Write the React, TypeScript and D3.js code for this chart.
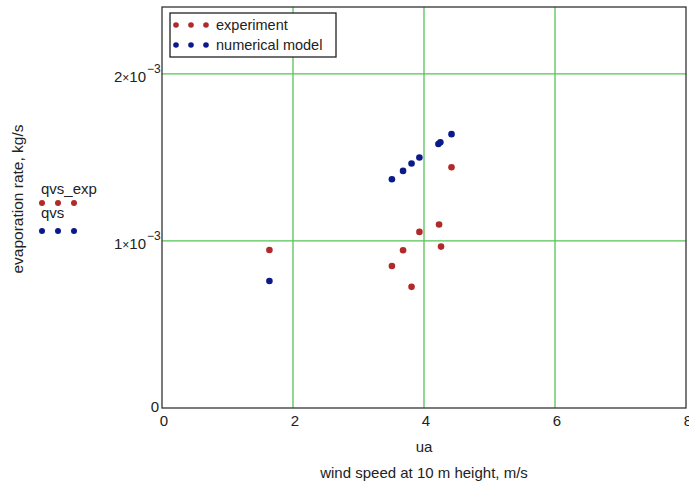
import React from "react";
import * as d3 from "d3";

const windSpeed = [1.64, 3.51, 3.68, 3.81, 3.93, 4.23, 4.26, 4.42];
const experiment = [0.946e-3, 0.85e-3, 0.944e-3, 0.725e-3, 1.054e-3, 1.098e-3, 0.966e-3, 1.441e-3];
const modelX = [1.64, 3.51, 3.68, 3.81, 3.93, 4.22, 4.25, 4.42];
const model = [0.76e-3, 1.369e-3, 1.419e-3, 1.463e-3, 1.499e-3, 1.58e-3, 1.59e-3, 1.639e-3];
const xTicks = [0, 2, 4, 6, 8];
const yTicks = [0, 1e-3, 2e-3];
const yTickMantissa = ["0", "1", "2"];

const W = 689, H = 486;
const L = 162, R = 686, T = 7, B = 408;
const RED = "#b02a2a";
const BLUE = "#0a1a8a";
const GRID = "#55c455";
const FONT = "'Liberation Sans', Arial, sans-serif";
const FS = 15;

export default function App() {
  const x = d3.scaleLinear().domain([0, 8]).range([L, R]);
  const y = d3.scaleLinear().domain([0, 2.4e-3]).range([B, T]);
  return (
    <svg width={W} height={H} style={{ position: "absolute", left: 0, top: 0, background: "#fff" }} fontFamily={FONT}>
      {xTicks.filter((t) => t > 0 && t < 8).map((t) => (
        <line key={"gx" + t} x1={x(t)} x2={x(t)} y1={T} y2={B} stroke={GRID} strokeWidth={1.3} />
      ))}
      {yTicks.filter((t) => t > 0).map((t) => (
        <line key={"gy" + t} x1={L} x2={R} y1={y(t)} y2={y(t)} stroke={GRID} strokeWidth={1.3} />
      ))}
      <rect x={L} y={T} width={R - L} height={B - T} fill="none" stroke="#333" strokeWidth={1.3} />
      {xTicks.map((t) => (
        <text key={"xt" + t} x={x(t) + 2} y={B + 18} fontSize={FS} textAnchor="middle" fill="#222">{t}</text>
      ))}
      {yTicks.map((t, i) =>
        t === 0 ? (
          <text key={"yt" + i} x={L - 3} y={y(t) + 4} fontSize={FS} textAnchor="end" fill="#222">0</text>
        ) : (
          <text key={"yt" + i} x={L - 16} y={y(t) + 8} fontSize={FS} textAnchor="end" fill="#222">
            {yTickMantissa[i]}
            <tspan fontSize={12}>×</tspan>10
          </text>
        )
      )}
      {yTicks.filter((t) => t > 0).map((t, i) => (
        <text key={"ye" + i} x={L - 15} y={y(t) - 1} fontSize={12} textAnchor="start" fill="#222">−3</text>
      ))}
      <text x={(L + R) / 2} y={452} fontSize={FS} textAnchor="middle" fill="#222">ua</text>
      <text x={(L + R) / 2} y={478} fontSize={FS} textAnchor="middle" fill="#222">wind speed at 10 m height, m/s</text>
      <text transform={`translate(23,199) rotate(-90)`} fontSize={15.5} textAnchor="middle" fill="#222">evaporation rate, kg/s</text>
      {/* left legend */}
      <text x={41} y={194} fontSize={FS} fill="#222">qvs_exp</text>
      {[42, 58, 74].map((cx) => (
        <circle key={"lr" + cx} cx={cx} cy={203} r={3} fill={RED} />
      ))}
      <text x={41} y={218} fontSize={FS} fill="#222">qvs</text>
      {[42, 58, 74].map((cx) => (
        <circle key={"lb" + cx} cx={cx} cy={231} r={3} fill={BLUE} />
      ))}
      {/* data */}
      {windSpeed.map((v, i) => (
        <circle key={"e" + i} cx={x(v)} cy={y(experiment[i])} r={3.3} fill={RED} />
      ))}
      {modelX.map((v, i) => (
        <circle key={"m" + i} cx={x(v)} cy={y(model[i])} r={3.3} fill={BLUE} />
      ))}
      {/* legend box */}
      <rect x={170} y={13} width={166} height={44} fill="#fff" stroke="#222" strokeWidth={1.3} />
      {[176, 191, 206].map((cx) => (
        <circle key={"br" + cx} cx={cx} cy={25} r={2.8} fill={RED} />
      ))}
      <text x={216} y={30} fontSize={14.5} fill="#222">experiment</text>
      {[176, 191, 206].map((cx) => (
        <circle key={"bb" + cx} cx={cx} cy={45} r={2.8} fill={BLUE} />
      ))}
      <text x={216} y={50} fontSize={14.5} fill="#222">numerical model</text>
    </svg>
  );
}
